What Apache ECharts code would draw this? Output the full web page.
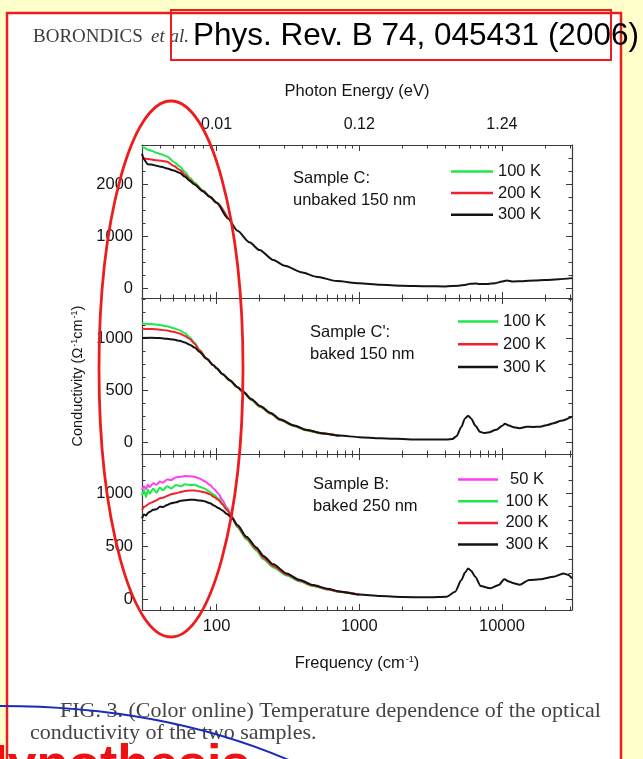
<!DOCTYPE html>
<html>
<head>
<meta charset="utf-8">
<script src="https://cdn.jsdelivr.net/npm/echarts@6/dist/echarts.min.js"></script>
<style>
  html, body { margin: 0; padding: 0; background: #ffffff; }
  #chart { width: 643px; height: 759px; }
</style>
</head>
<body>
<div id="chart"></div>
<script>
// ---- Frequency axis ticks (cm^-1) and photon-energy labels (eV) ----
const freqMajorTicks = [100, 1000, 10000];
const freqMinorTicks = [40, 50, 60, 70, 80, 90, 200, 300, 400, 500, 600, 700, 800, 900,
  2000, 3000, 4000, 5000, 6000, 7000, 8000, 9000, 20000, 30000];
const energyTickLabels = ['0.01', '0.12', '1.24'];

// ---- Conductivity ticks per panel ----
const sigmaTicksC = [0, 1000, 2000];
const sigmaMinorC = [250, 500, 750, 1250, 1500, 1750, 2250, 2500];
const sigmaTicksCp = [0, 500, 1000];
const sigmaMinorCp = [125, 250, 375, 625, 750, 875, 1125, 1250, 1375];
const sigmaTicksB = [0, 500, 1000];
const sigmaMinorB = [125, 250, 375, 625, 750, 875, 1125, 1250];

// ---- Sample C: unbaked 150 nm ----
const freqC = [30, 31, 33, 35, 38, 41, 45, 50, 55, 60, 65, 70, 80, 90, 100, 120, 140, 170, 200,
  250, 300, 400, 500, 700, 1000, 1400, 2000, 3000, 4000, 5000, 5500, 6000, 6500, 7000, 8000,
  9000, 10000, 10800, 12000, 14000, 17000, 20000, 25000, 31000];
const sigmaC100 = [2720, 2700, 2660, 2640, 2600, 2570, 2530, 2430, 2340, 2230, 2120, 2030, 1880,
  1760, 1645, 1340];
const sigmaC200 = [2500, 2495, 2480, 2470, 2455, 2445, 2430, 2350, 2275, 2180, 2080, 2000, 1868,
  1755, 1642, 1340];
const sigmaC300 = [2580, 2470, 2380, 2375, 2350, 2330, 2300, 2260, 2215, 2140, 2060, 1990, 1860,
  1750, 1640, 1340, 1100, 880, 730, 540, 430, 300, 220, 135, 92, 63, 45, 36, 33, 45, 62, 82, 88,
  80, 78, 95, 125, 148, 128, 132, 148, 155, 170, 192];

// ---- Sample C': baked 150 nm ----
const freqCp = [30, 35, 40, 45, 50, 55, 60, 65, 70, 76, 85, 95, 100, 110, 124, 140, 154, 175, 202,
  240, 278, 350, 426, 550, 730, 1000, 1400, 2400, 4100, 4500, 4800, 5200, 5500, 5800, 6100, 6500,
  7000, 7500, 8000, 9100, 10000, 10500, 11200, 12100, 13300, 14900, 16500, 18500, 21000, 23000,
  26000, 31000];
const sigmaCp100 = [1145, 1140, 1130, 1118, 1100, 1080, 1050, 1010, 962, 890, 810, 744, 713, 656,
  594, 528, 480, 410, 342, 276, 216, 158, 117, 86, 64];
const sigmaCp200 = [1095, 1092, 1085, 1077, 1065, 1048, 1025, 995, 950, 884, 808, 744, 714, 658,
  597, 531, 485, 415, 347, 280, 220, 162, 120, 88, 66];
const sigmaCp300 = [1005, 1007, 1005, 998, 990, 978, 962, 940, 915, 870, 805, 744, 715, 660, 600,
  535, 489, 420, 352, 285, 224, 165, 122, 90, 67, 52, 42, 29, 29, 35, 60, 150, 230, 258, 230, 165,
  105, 92, 96, 122, 160, 180, 165, 147, 138, 153, 150, 153, 170, 186, 210, 250];

// ---- Sample B: baked 250 nm ----
const freqB = [30, 31, 32, 33, 34, 36, 38, 40, 42, 45, 48, 52, 56, 60, 65, 70, 76, 82, 90, 96,
  103, 110, 118, 128, 140, 162, 190, 213, 250, 310, 380, 475, 600, 730, 1000, 1400, 2000, 3000,
  4100, 4700, 5200, 5500, 5800, 6100, 6500, 7100, 8300, 9500, 10400, 11200, 12100, 13300, 15500,
  18500, 23000, 27000, 29000, 31000];
const sigmaB50 = [1030, 1065, 1040, 1080, 1060, 1095, 1080, 1110, 1100, 1130, 1125, 1150, 1155,
  1162, 1160, 1155, 1140, 1115, 1078, 1040, 995, 935, 865, 782, 685, 570, 467, 385, 307, 230, 174,
  128, 94, 71, 45];
const sigmaB100 = [980, 1030, 965, 1035, 995, 1045, 1005, 1055, 1030, 1065, 1045, 1078, 1065,
  1085, 1078, 1080, 1062, 1045, 1010, 985, 950, 905, 850, 778, 680, 565, 460, 378, 300, 225, 170,
  125, 92, 70, 45];
const sigmaB200 = [842, 870, 880, 895, 906, 920, 935, 953, 958, 975, 990, 1000, 1012, 1022, 1025,
  1025, 1020, 1010, 990, 965, 937, 895, 842, 775, 690, 578, 475, 393, 315, 235, 178, 130, 96, 72,
  45];
const sigmaB300 = [764, 800, 790, 815, 825, 845, 850, 874, 870, 890, 905, 915, 930, 935, 940, 938,
  932, 925, 906, 885, 860, 838, 805, 768, 700, 591, 490, 410, 330, 245, 185, 135, 100, 75, 45, 31,
  22, 19, 25, 72, 182, 250, 292, 268, 213, 125, 104, 135, 189, 168, 151, 138, 182, 189, 213, 245,
  232, 198];

// ---- Styling ----
const SANS = '"Liberation Sans", Arial, Helvetica, sans-serif';
const SERIF = '"Liberation Serif", "Times New Roman", serif';
const INK = '#141414';
const AXIS = '#3a3a3a';
const COLORS = { '50 K': '#ff3cf0', '100 K': '#1ee84a', '200 K': '#f4202c', '300 K': '#141414' };
const plain = v => String(v);

const panels = [
  { top: 145, height: 153, min: -190, max: 2750, major: sigmaTicksC, minor: sigmaMinorC,
    freq: freqC, curves: [['100 K', sigmaC100], ['200 K', sigmaC200], ['300 K', sigmaC300]] },
  { top: 298, height: 156, min: -110, max: 1390, major: sigmaTicksCp, minor: sigmaMinorCp,
    freq: freqCp, curves: [['100 K', sigmaCp100], ['200 K', sigmaCp200], ['300 K', sigmaCp300]] },
  { top: 454, height: 156, min: -100, max: 1370, major: sigmaTicksB, minor: sigmaMinorB,
    freq: freqB, curves: [['50 K', sigmaB50], ['100 K', sigmaB100], ['200 K', sigmaB200], ['300 K', sigmaB300]] }
];

const grid = [], xAxis = [], yAxis = [], series = [];
const supRich = {
  sup: { fontSize: 9, fontFamily: SANS, color: INK, verticalAlign: 'top', lineHeight: 10, padding: [0, 0, 0, 1] }
};

panels.forEach((p, i) => {
  grid.push({ left: 142, width: 430, top: p.top, height: p.height, containLabel: false });

  const xBase = {
    type: 'log', logBase: 10, gridIndex: i, min: 30, max: 31000,
    splitLine: { show: false }, minorTick: { show: false }
  };
  const lineOn = { show: true, onZero: false, lineStyle: { color: AXIS, width: 1.2 } };
  const lineOff = { show: false, onZero: false };
  // bottom, major ticks + labels on the lowest panel
  xAxis.push(Object.assign({}, xBase, {
    position: 'bottom', axisLine: lineOn,
    axisTick: { show: true, inside: true, length: 6, customValues: freqMajorTicks, lineStyle: { color: AXIS } },
    axisLabel: { show: i === 2, customValues: freqMajorTicks, margin: 8, fontSize: 16.5, fontFamily: SANS,
      color: INK, formatter: plain },
    name: i === 2 ? 'Frequency (cm{sup|-1})' : '', nameLocation: 'middle', nameGap: 45,
    nameTextStyle: { fontSize: 16.5, fontFamily: SANS, color: INK, rich: supRich }
  }));
  // bottom, minor ticks
  xAxis.push(Object.assign({}, xBase, {
    position: 'bottom', axisLine: lineOff,
    axisTick: { show: true, inside: true, length: 3.5, customValues: freqMinorTicks, lineStyle: { color: AXIS } },
    axisLabel: { show: false }
  }));
  // top, major ticks + photon energy labels on the upper panel
  xAxis.push(Object.assign({}, xBase, {
    position: 'top', axisLine: lineOn,
    axisTick: { show: true, inside: true, length: 6, customValues: freqMajorTicks, lineStyle: { color: AXIS } },
    axisLabel: {
      show: i === 0, customValues: freqMajorTicks, margin: 12, fontSize: 16, fontFamily: SANS, color: INK,
      formatter: v => energyTickLabels[freqMajorTicks.indexOf(v)] || ''
    },
    name: i === 0 ? 'Photon Energy (eV)' : '', nameLocation: 'middle', nameGap: 45,
    nameTextStyle: { fontSize: 16.5, fontFamily: SANS, color: INK }
  }));
  // top, minor ticks
  xAxis.push(Object.assign({}, xBase, {
    position: 'top', axisLine: lineOff,
    axisTick: { show: true, inside: true, length: 3.5, customValues: freqMinorTicks, lineStyle: { color: AXIS } },
    axisLabel: { show: false }
  }));

  const yBase = { type: 'value', gridIndex: i, min: p.min, max: p.max, splitLine: { show: false } };
  yAxis.push(Object.assign({}, yBase, {
    position: 'left', axisLine: lineOn,
    axisTick: { show: true, inside: true, length: 6, customValues: p.major, lineStyle: { color: AXIS } },
    axisLabel: { show: true, customValues: p.major, margin: 9, fontSize: 16.5, fontFamily: SANS, color: INK,
      formatter: plain },
    name: i === 1 ? 'Conductivity (Ω{sup|-1}cm{sup|-1})' : '', nameLocation: 'middle', nameGap: 48,
    nameRotate: 90,
    nameTextStyle: { fontSize: 14.5, fontFamily: SANS, color: INK, rich: supRich }
  }));
  yAxis.push(Object.assign({}, yBase, {
    position: 'left', axisLine: lineOff,
    axisTick: { show: true, inside: true, length: 3.5, customValues: p.minor, lineStyle: { color: AXIS } },
    axisLabel: { show: false }
  }));
  yAxis.push(Object.assign({}, yBase, {
    position: 'right', axisLine: lineOn,
    axisTick: { show: true, inside: true, length: 6, customValues: p.major, lineStyle: { color: AXIS } },
    axisLabel: { show: false }
  }));
  yAxis.push(Object.assign({}, yBase, {
    position: 'right', axisLine: lineOff,
    axisTick: { show: true, inside: true, length: 3.5, customValues: p.minor, lineStyle: { color: AXIS } },
    axisLabel: { show: false }
  }));

  p.curves.forEach(([name, vals]) => {
    series.push({
      type: 'line', name, xAxisIndex: i * 4, yAxisIndex: i * 4,
      data: vals.map((v, k) => [p.freq[k], v]),
      symbol: 'none', showSymbol: false, smooth: 0.25, smoothMonotone: 'x',
      lineStyle: { color: COLORS[name], width: 2 }, itemStyle: { color: COLORS[name] },
      emphasis: { disabled: true }, animation: false
    });
  });
});

// legends drawn as plain line swatches
const legendText = { fontSize: 16.5, fontFamily: SANS, color: INK };
const legendBase = { orient: 'vertical', icon: 'rect', itemHeight: 2.5, padding: 0, selectedMode: false, textStyle: legendText };
const legend = [
  Object.assign({}, legendBase, { data: ['100 K', '200 K', '300 K'], left: 451, top: 163, itemWidth: 42, itemGap: 4.6 }),
  Object.assign({}, legendBase, { data: ['100 K', '200 K', '300 K'], left: 458, top: 313, itemWidth: 40, itemGap: 5.8 }),
  Object.assign({}, legendBase, {
    data: ['50 K', '100 K', '200 K', '300 K'], left: 458, top: 471, itemWidth: 40, itemGap: 4.7,
    formatter: '{t|{name}}',
    textStyle: Object.assign({}, legendText, { rich: { t: Object.assign({ width: 48, align: 'center' }, legendText) } })
  })
];

const panelText = (x, y, text) => ({
  type: 'text', x, y, z: 50,
  style: { text, font: '16.5px ' + SANS, fill: INK, lineHeight: 22, textVerticalAlign: 'top' }
});

const graphic = [
  // page margins
  { type: 'rect', shape: { x: 0, y: 0, width: 643, height: 13 }, style: { fill: '#ffffcc' }, z: 1 },
  { type: 'rect', shape: { x: 0, y: 0, width: 7, height: 759 }, style: { fill: '#ffffcc' }, z: 1 },
  { type: 'rect', shape: { x: 621, y: 0, width: 22, height: 759 }, style: { fill: '#ffffcc' }, z: 1 },
  { type: 'rect', shape: { x: 7, y: 13, width: 614, height: 800 },
    style: { fill: 'none', stroke: '#ee1c1c', lineWidth: 2.5 }, z: 60 },
  // running head
  { type: 'text', x: 33, y: 37, z: 50,
    style: { text: 'BORONDICS', font: '19px ' + SERIF, fill: '#3c3c3c', textVerticalAlign: 'middle' } },
  { type: 'text', x: 151, y: 37, z: 50,
    style: { text: 'et al.', font: 'italic 19px ' + SERIF, fill: '#3c3c3c', textVerticalAlign: 'middle' } },
  // reference box
  { type: 'rect', shape: { x: 171, y: 10, width: 440, height: 50 },
    style: { fill: 'none', stroke: '#ee1c1c', lineWidth: 2 }, z: 60 },
  { type: 'text', x: 193, y: 36, z: 61,
    style: { text: 'Phys. Rev. B 74, 045431 (2006)', font: '31.5px ' + SANS, fill: '#000', textVerticalAlign: 'middle' } },
  // panel annotations
  panelText(293, 167, 'Sample C:\nunbaked 150 nm'),
  panelText(310, 321, 'Sample C\':\nbaked 150 nm'),
  panelText(313, 473, 'Sample B:\nbaked 250 nm'),
  // caption
  { type: 'text', x: 60, y: 711, z: 50,
    style: { text: 'FIG. 3. (Color online) Temperature dependence of the optical', font: '22px ' + SERIF,
      fill: '#444', textVerticalAlign: 'middle' } },
  { type: 'text', x: 30, y: 733, z: 50,
    style: { text: 'conductivity of the two samples.', font: '22px ' + SERIF, fill: '#444', textVerticalAlign: 'middle' } },
  // highlight ellipse around the low-frequency region
  { type: 'ellipse', shape: { cx: 171, cy: 369, rx: 72, ry: 268 }, z: 70,
    style: { fill: 'none', stroke: '#ee1c1c', lineWidth: 2.8 } },
  // blue arc and heading at the slide bottom
  { type: 'bezierCurve', shape: { x1: 0, y1: 706, cpx1: 170, cpy1: 706, x2: 300, y2: 765 }, z: 70,
    style: { fill: 'none', stroke: '#1a2bb8', lineWidth: 2 } },
  { type: 'text', x: -30, y: 741, z: 71,
    style: { text: 'Hypothesis', font: 'bold 52px ' + SANS, fill: '#ee1111', textVerticalAlign: 'top' } }
];

const chart = echarts.init(document.getElementById('chart'), null, { renderer: 'canvas' });
chart.setOption({
  backgroundColor: '#ffffff',
  animation: false,
  grid, xAxis, yAxis, series, legend, graphic
});
</script>
</body>
</html>
